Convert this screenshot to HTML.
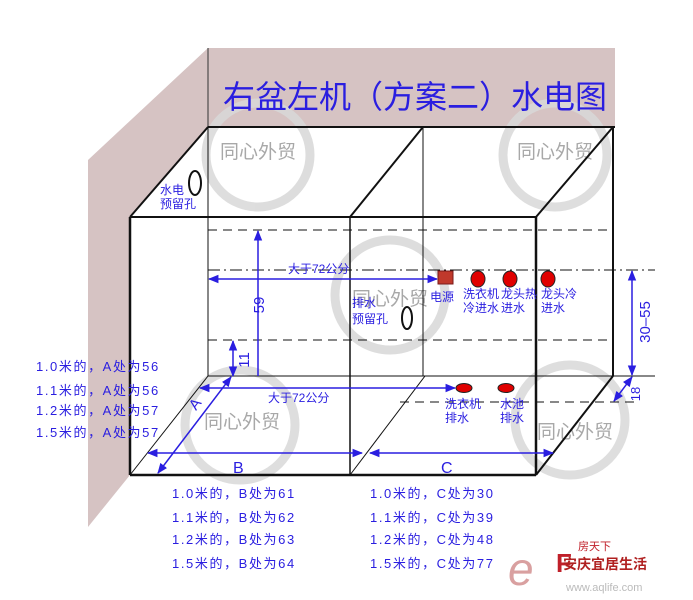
<!DOCTYPE html>
<html><head><meta charset="utf-8"><style>
html,body{margin:0;padding:0;background:#fff;}
svg{display:block;font-family:"Liberation Sans","Noto Sans CJK SC",sans-serif;}
</style></head><body>
<svg width="693" height="600" viewBox="0 0 693 600" xmlns="http://www.w3.org/2000/svg">
<defs>
<marker id="a" viewBox="0 0 10 10" refX="9" refY="5" markerWidth="7" markerHeight="7" orient="auto-start-reverse"><path d="M0,1 L10,5 L0,9 z" fill="#2a1ee0"/></marker>
</defs>
<rect x="208" y="48" width="407" height="79" fill="#d6c3c3"/>
<polygon points="208,48 208,127 130,217 130,475 88,527 88,160" fill="#d6c3c3"/>
<line x1="208" y1="48" x2="208" y2="127" stroke="#333" stroke-width="1"/>
<g fill="none" stroke="#d8d8d8" stroke-width="9" opacity="0.85">
<circle cx="258" cy="155" r="52"/><circle cx="555" cy="155" r="52"/>
<circle cx="390" cy="295" r="55"/><circle cx="240" cy="425" r="55"/><circle cx="570" cy="420" r="55"/>
</g>
<text x="415" y="108" font-size="32" fill="#2a1ee0" text-anchor="middle">右盆左机（方案二）水电图</text>
<g font-size="19" fill="#a8a8a8" text-anchor="middle">
<text x="258" y="158">同心外贸</text><text x="555" y="158">同心外贸</text>
<text x="390" y="305">同心外贸</text><text x="242" y="428">同心外贸</text><text x="575" y="438">同心外贸</text>
</g>
<g stroke="#111" fill="none">
<line x1="208" y1="127" x2="615" y2="127" stroke-width="2"/>
<line x1="130" y1="217" x2="208" y2="127" stroke-width="2"/>
<line x1="350" y1="217" x2="423" y2="127" stroke-width="2"/>
<line x1="536" y1="217" x2="613" y2="127" stroke-width="2"/>
<line x1="208" y1="127" x2="208" y2="376" stroke-width="1"/>
<line x1="423" y1="127" x2="423" y2="376" stroke-width="1"/>
<line x1="613" y1="127" x2="613" y2="376" stroke-width="2"/>
<line x1="130" y1="217" x2="536" y2="217" stroke-width="2"/>
<line x1="130" y1="217" x2="130" y2="475" stroke-width="2.5"/>
<line x1="350" y1="217" x2="350" y2="475" stroke-width="1.5"/>
<line x1="536" y1="217" x2="536" y2="475" stroke-width="2.5"/>
<line x1="130" y1="475" x2="536" y2="475" stroke-width="2.5"/>
<line x1="208" y1="376" x2="655" y2="376" stroke-width="1"/>
<line x1="130" y1="475" x2="208" y2="376" stroke-width="1"/>
<line x1="350" y1="475" x2="425" y2="376" stroke-width="1"/>
<line x1="536" y1="475" x2="613" y2="376" stroke-width="2"/>
<line x1="208" y1="230" x2="613" y2="230" stroke-dasharray="9,6" stroke-width="1"/>
<line x1="208" y1="340" x2="613" y2="340" stroke-dasharray="9,6" stroke-width="1"/>
<line x1="208" y1="270" x2="655" y2="270" stroke-dasharray="12,4,2,4" stroke-width="1"/>
<line x1="400" y1="402" x2="640" y2="402" stroke-dasharray="9,6" stroke-width="1"/>
<ellipse cx="195" cy="183" rx="6" ry="12" stroke-width="2"/>
<ellipse cx="407" cy="318" rx="5" ry="11" stroke-width="2"/>
</g>
<g stroke="#2a1ee0" stroke-width="1.5" fill="none">
<line x1="258" y1="376" x2="258" y2="231" marker-end="url(#a)"/>
<line x1="233" y1="376" x2="233" y2="341" marker-end="url(#a)" marker-start="url(#a)"/>
<line x1="209" y1="279" x2="437" y2="279" marker-end="url(#a)" marker-start="url(#a)"/>
<line x1="200" y1="388" x2="455" y2="388" marker-end="url(#a)" marker-start="url(#a)"/>
<line x1="632" y1="271" x2="632" y2="375" marker-end="url(#a)" marker-start="url(#a)"/>
<line x1="632" y1="377" x2="614" y2="401" marker-end="url(#a)" marker-start="url(#a)"/>
<line x1="231" y1="377" x2="158" y2="473" marker-end="url(#a)" marker-start="url(#a)"/>
<line x1="148" y1="453" x2="362" y2="453" marker-end="url(#a)" marker-start="url(#a)"/>
<line x1="370" y1="453" x2="553" y2="453" marker-end="url(#a)" marker-start="url(#a)"/>
</g>
<rect x="438" y="271" width="15" height="13" fill="#c0392b" stroke="#7a1a1a"/>
<g fill="#e00000" stroke="#222" stroke-width="1">
<ellipse cx="478" cy="279" rx="7" ry="8"/><ellipse cx="510" cy="279" rx="7" ry="8"/><ellipse cx="548" cy="279" rx="7" ry="8"/>
<ellipse cx="464" cy="388" rx="8" ry="4.5"/><ellipse cx="506" cy="388" rx="8" ry="4.5"/>
</g>
<g fill="#2a1ee0" font-size="12">
<text x="160" y="194">水电</text><text x="160" y="208">预留孔</text>
<text x="288" y="273">大于72公分</text>
<text x="352" y="307">排水</text><text x="352" y="323">预留孔</text>
<text x="430" y="301">电源</text>
<text x="463" y="298">洗衣机</text><text x="463" y="312">冷进水</text>
<text x="501" y="298">龙头热</text><text x="501" y="312">进水</text>
<text x="541" y="298">龙头冷</text><text x="541" y="312">进水</text>
<text x="268" y="402">大于72公分</text>
<text x="445" y="408">洗衣机</text><text x="445" y="422">排水</text>
<text x="500" y="408">水池</text><text x="500" y="422">排水</text>
<text font-size="15" transform="translate(264,305) rotate(-90)" text-anchor="middle">59</text>
<text font-size="15" transform="translate(249,360) rotate(-90)" text-anchor="middle">11</text>
<text font-size="15" transform="translate(650,322) rotate(-90)" text-anchor="middle">30–55</text>
<text font-size="13" transform="translate(640,394) rotate(-90)" text-anchor="middle">18</text>
<text font-size="15" transform="translate(196,411) rotate(-53)">A</text>
<text x="233" y="473" font-size="16">B</text>
<text x="441" y="473" font-size="16">C</text>
</g>
<g fill="#2a1ee0" font-size="13" letter-spacing="1.6">
<text x="36" y="371">1.0米的，A处为56</text>
<text x="36" y="395">1.1米的，A处为56</text>
<text x="36" y="415">1.2米的，A处为57</text>
<text x="36" y="437">1.5米的，A处为57</text>
<text x="172" y="498">1.0米的，B处为61</text>
<text x="172" y="522">1.1米的，B处为62</text>
<text x="172" y="544">1.2米的，B处为63</text>
<text x="172" y="568">1.5米的，B处为64</text>
<text x="370" y="498">1.0米的，C处为30</text>
<text x="370" y="522">1.1米的，C处为39</text>
<text x="370" y="544">1.2米的，C处为48</text>
<text x="370" y="568">1.5米的，C处为77</text>
</g>
<text x="508" y="585" font-size="46" font-style="italic" fill="#d9a0a0">e</text>
<text x="556" y="572" font-size="26" font-weight="bold" fill="#c0202a">F</text>
<text x="578" y="550" font-size="11" fill="#c0202a">房天下</text>
<text x="563" y="569" font-size="14" font-weight="bold" fill="#b02020">安庆宜居生活</text>
<text x="566" y="591" font-size="11" fill="#bbb">www.aqlife.com</text>
</svg>
</body></html>
